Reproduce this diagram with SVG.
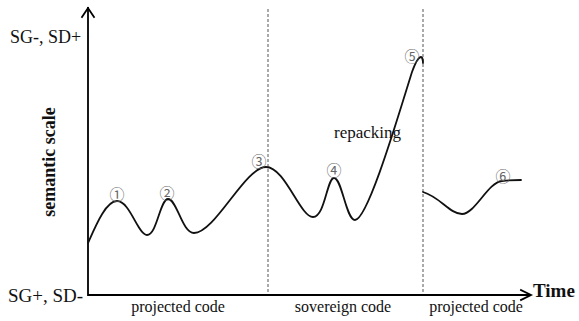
<svg xmlns="http://www.w3.org/2000/svg" width="579" height="321" viewBox="0 0 579 321">
<style>
.ax{fill:none;stroke:#000;stroke-width:1.8;stroke-linecap:square}
.dash{fill:none;stroke:#555;stroke-width:1;stroke-dasharray:3 2}
.curve{fill:none;stroke:#111;stroke-width:1.8;stroke-linecap:round;stroke-linejoin:round}
.t{font-family:"Liberation Serif","Times New Roman",serif;fill:#111}
.num{font-family:"Noto Sans CJK SC","DejaVu Sans",sans-serif;font-size:15px;fill:#666;text-anchor:middle;dominant-baseline:central}
</style>
<rect width="579" height="321" fill="#fff"/>
<g id="grid">
<line class="dash" x1="268" y1="9" x2="268" y2="293"/>
<line class="dash" x1="423" y1="9" x2="423" y2="293"/>
</g>
<g id="axes">
<path class="ax" d="M88,8 V295 H530"/>
<path class="ax" d="M82,17 L88,8 L94,17" stroke-linecap="round" stroke-linejoin="miter"/>
<path class="ax" d="M521,290 L531,295 L521,300" stroke-linecap="round" stroke-linejoin="miter"/>
</g>
<g id="connectors">
<path class="curve" d="M88,243 C96,225 106,201 117,201 C130,201 138,235 147,235 C157,235 160,199 168,199 C177,199 182,233 194,233 C215,233 245,167 266,167 C285,167 300,217 313,217 C325,217 327,178 334,178 C342,178 346,220 355,220 C368,220 400,110 412,72 C416,61 419,57 421,57 C422,57 423,60 423,63"/>
<path class="curve" d="M423,192 C440,197 450,214 462,214 C475,214 488,182 502,181 C510,180 515,180 521,180"/>
</g>
<g id="labels">
<text class="t" x="10" y="43" font-size="18">SG-, SD+</text>
<text class="t" x="8" y="302" font-size="19">SG+, SD-</text>
<text class="t" font-size="18" font-weight="bold" text-anchor="middle" transform="translate(55,162) rotate(-90)">semantic scale</text>
<text class="t" x="533" y="297" font-size="19" font-weight="bold">Time</text>
<text class="t" x="178" y="312" font-size="16" text-anchor="middle">projected code</text>
<text class="t" x="343" y="312" font-size="16" text-anchor="middle">sovereign code</text>
<text class="t" x="476" y="312" font-size="16" text-anchor="middle">projected code</text>
<text class="t" x="334" y="138" font-size="17">repacking</text>
</g>
<g id="markers">
<text id="n1" class="num" x="117" y="193">①</text>
<text id="n2" class="num" x="167" y="192">②</text>
<text id="n3" class="num" x="259" y="160">③</text>
<text id="n4" class="num" x="334" y="169">④</text>
<text id="n5" class="num" x="412" y="55">⑤</text>
<text id="n6" class="num" x="503" y="175">⑥</text>
</g>
</svg>
